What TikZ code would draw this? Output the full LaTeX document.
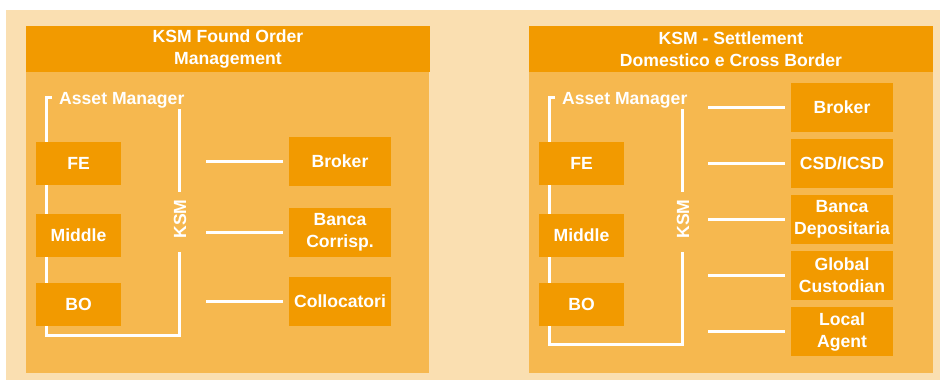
\documentclass[tikz,border=0pt]{standalone}
\usepackage{fontspec}
\setmainfont{Liberation Sans}
\definecolor{bglight}{HTML}{FADFB1}
\definecolor{panelmid}{HTML}{F6B84F}
\definecolor{boxdark}{HTML}{F29A00}
\begin{document}
\begin{tikzpicture}[x=1pt,y=-1pt,
  txt/.style={text=white,font=\fontsize{17.6}{22}\selectfont\bfseries,inner sep=0pt,align=center},
  ibox/.style={txt,fill=boxdark,minimum width=85pt,minimum height=43pt},
  obox/.style={txt,fill=boxdark,minimum width=102pt,minimum height=49pt},
  wline/.style={draw=white,line width=3pt},
  conn/.style={wline,shorten >=6pt}]
\useasboundingbox (0,0) rectangle (940,380);
\fill[white] (0,0) rectangle (940,380);
\fill[bglight] (6,10) rectangle (940,380);
% panels
\fill[panelmid] (26,72) rectangle (429,373);
\fill[boxdark] (26,26) rectangle (430,72);
\fill[panelmid] (529,72) rectangle (933,373);
\fill[boxdark] (529,26) rectangle (933,72);
\node[txt] (h1) at (228,49) {KSM Found Order\\Management};
\node[txt] (h2) at (731,49) {KSM - Settlement\\Domestico e Cross Border};
% left panel
\draw[wline] (52,97) -| (46,335) -| (179,252);
\draw[wline] (179,109) -- (179,192);
\node[txt,anchor=base west] (am1) at (59,104.5) {Asset Manager};
\node[txt,rotate=90] (ksm1) at (180,219) {KSM};
\node[ibox] (fe1) at (78.5,163.5) {FE};
\node[ibox] (mid1) at (78.5,235.5) {Middle};
\node[ibox] (bo1) at (78.5,304.5) {BO};
\node[obox] (br1) at (340,161.5) {Broker};
\node[obox] (bc1) at (340,232.5) {Banca\\Corrisp.};
\node[obox] (co1) at (340,301.5) {Collocatori};
\coordinate (s11) at (206,161.5);
\coordinate (s12) at (206,232.5);
\coordinate (s13) at (206,301.5);
\draw[conn] (s11) -- (br1.west);
\draw[conn] (s12) -- (bc1.west);
\draw[conn] (s13) -- (co1.west);
% right panel
\draw[wline] (555,97) -| (549,344) -| (682,252);
\draw[wline] (682,109) -- (682,192);
\node[txt,anchor=base west] (am2) at (562,104.5) {Asset Manager};
\node[txt,rotate=90] (ksm2) at (683,219) {KSM};
\node[ibox] (fe2) at (581.5,163.5) {FE};
\node[ibox] (mid2) at (581.5,235.5) {Middle};
\node[ibox] (bo2) at (581.5,304.5) {BO};
\node[obox] (br2) at (842,107.5) {Broker};
\node[obox] (cs2) at (842,163.5) {CSD/ICSD};
\node[obox] (bd2) at (842,219) {Banca\\Depositaria};
\node[obox] (gc2) at (842,275.5) {Global\\Custodian};
\node[obox] (la2) at (842,331.5) {Local\\Agent};
\coordinate (s21) at (708,107.5);
\coordinate (s22) at (708,163.5);
\coordinate (s23) at (708,219);
\coordinate (s24) at (708,275.5);
\coordinate (s25) at (708,331.5);
\draw[conn] (s21) -- (br2.west);
\draw[conn] (s22) -- (cs2.west);
\draw[conn] (s23) -- (bd2.west);
\draw[conn] (s24) -- (gc2.west);
\draw[conn] (s25) -- (la2.west);
\end{tikzpicture}
\end{document}
